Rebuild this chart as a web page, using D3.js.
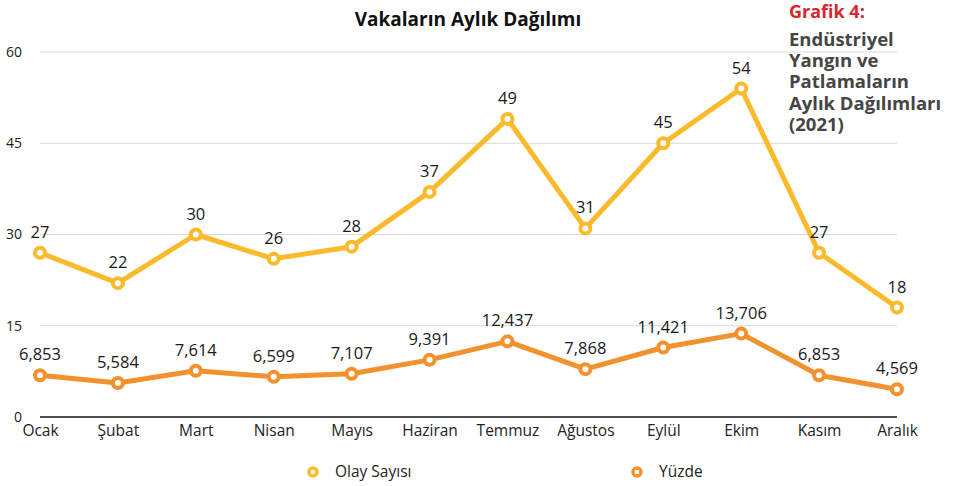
<!DOCTYPE html>
<html>
<head>
<meta charset="utf-8">
<script src="https://cdn.jsdelivr.net/npm/d3@7"></script>
<style>
  body { margin: 0; background: #fff; font-family: 'Open Sans', 'Noto Sans', sans-serif; }
  .grid line { stroke: #d9d9d9; stroke-width: 1; }
  .axis text { font-family: 'Open Sans', sans-serif; font-size: 15.5px; fill: #222; }
  .axis path, .axis line { display: none; }
</style>
</head>
<body>
<div id="chart"></div>
<script>
(function() {
  const months = ['Ocak', 'Şubat', 'Mart', 'Nisan', 'Mayıs', 'Haziran', 'Temmuz', 'Ağustos', 'Eylül', 'Ekim', 'Kasım', 'Aralık'];
  const olaySayisi = [27, 22, 30, 26, 28, 37, 49, 31, 45, 54, 27, 18];
  const yuzde = [6.853, 5.584, 7.614, 6.599, 7.107, 9.391, 12.437, 7.868, 11.421, 13.706, 6.853, 4.569];
  const yTicks = [0, 15, 30, 45, 60];
  const noteLines = ['Endüstriyel', 'Yangın ve', 'Patlamaların', 'Aylık Dağılımları', '(2021)'];

  const width = 956, height = 486;
  const svg = d3.select('#chart').append('svg')
    .attr('width', width)
    .attr('height', height);

  const x = d3.scalePoint().domain(months).range([40, 897]);
  const y = d3.scaleLinear().domain([0, 60]).range([417, 52]);

  // Grid lines
  svg.append('g').attr('class', 'grid')
    .selectAll('line')
    .data(yTicks.filter(d => d > 0))
    .enter().append('line')
    .attr('x1', 40).attr('x2', 897)
    .attr('y1', d => y(d)).attr('y2', d => y(d));

  // Zero line
  svg.append('line')
    .attr('x1', 40).attr('x2', 897)
    .attr('y1', y(0)).attr('y2', y(0))
    .attr('stroke', '#111').attr('stroke-width', 1.5);

  // Y axis labels
  svg.append('g').attr('class', 'axis')
    .attr('transform', 'translate(22,0)')
    .call(d3.axisLeft(y).tickValues(yTicks).tickSize(0).tickPadding(0))
    .selectAll('text').style('font-size', '14px');

  // X axis labels
  svg.append('g').attr('class', 'axis')
    .attr('transform', `translate(0,${y(0)})`)
    .call(d3.axisBottom(x).tickSize(0).tickPadding(8));

  const series = [
    { name: 'Olay Sayısı', values: olaySayisi, color: '#fbb92c', fmt: d => d3.format('d')(d) },
    { name: 'Yüzde', values: yuzde, color: '#f2922e', fmt: d => d3.format('.3f')(d).replace('.', ',') }
  ];

  const line = d3.line()
    .x((d, i) => x(months[i]))
    .y(d => y(d));

  series.forEach(s => {
    svg.append('path')
      .datum(s.values)
      .attr('fill', 'none')
      .attr('stroke', s.color)
      .attr('stroke-width', 5)
      .attr('stroke-linejoin', 'round')
      .attr('d', line);

    svg.append('g').selectAll('circle')
      .data(s.values)
      .enter().append('circle')
      .attr('cx', (d, i) => x(months[i]))
      .attr('cy', d => y(d))
      .attr('r', 5)
      .attr('fill', '#fff')
      .attr('stroke', s.color)
      .attr('stroke-width', 4);

    svg.append('g').selectAll('text')
      .data(s.values)
      .enter().append('text')
      .attr('x', (d, i) => x(months[i]))
      .attr('y', d => y(d) - 15)
      .attr('text-anchor', 'middle')
      .style('font-size', '16.5px')
      .style('fill', '#1a1a1a')
      .text(s.fmt);
  });

  // Title
  svg.append('text')
    .attr('x', 468).attr('y', 26)
    .attr('text-anchor', 'middle')
    .style('font-size', '19px')
    .style('font-weight', 'bold')
    .style('fill', '#111')
    .text('Vakaların Aylık Dağılımı');

  // Side note
  svg.append('text')
    .attr('x', 789).attr('y', 18)
    .style('font-size', '18px')
    .style('font-weight', 'bold')
    .style('fill', '#d7262e')
    .text('Grafik 4:');

  svg.append('g').selectAll('text')
    .data(noteLines)
    .enter().append('text')
    .attr('x', 789)
    .attr('y', (d, i) => 46 + i * 21.2)
    .style('font-size', '18.5px')
    .style('font-weight', 'bold')
    .style('fill', '#454545')
    .text(d => d);

  // Legend
  const legendX = [313, 637];
  const legend = svg.append('g').selectAll('g')
    .data(series)
    .enter().append('g')
    .attr('transform', (d, i) => `translate(${legendX[i]},472)`);

  legend.append('circle')
    .attr('r', 4)
    .attr('fill', '#fff')
    .attr('stroke', d => d.color)
    .attr('stroke-width', 3.5);

  legend.append('text')
    .attr('x', 22).attr('y', 5)
    .style('font-size', '15.5px')
    .style('fill', '#222')
    .text(d => d.name);
})();
</script>
</body>
</html>
